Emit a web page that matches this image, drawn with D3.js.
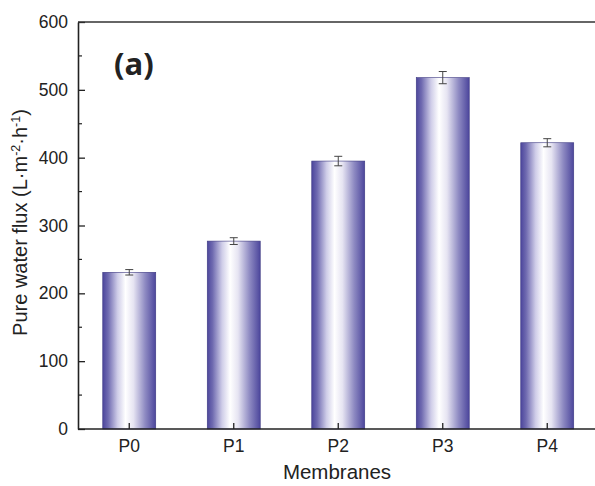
<!DOCTYPE html>
<html>
<head>
<meta charset="utf-8">
<script src="https://cdn.jsdelivr.net/npm/d3@7"></script>
<style>
  html, body { margin: 0; padding: 0; background: #fff; }
  svg { display: block; }
  text { font-family: "Liberation Sans", Arial, sans-serif; fill: #222; }
</style>
</head>
<body>
<svg id="chart" width="595" height="486"></svg>
<script>
// Pure water flux of the membranes
const categories = ["P0", "P1", "P2", "P3", "P4"];
const flux = [231, 277, 395, 518, 422];
const fluxErr = [4, 5, 7, 9, 6];
const yTicks = [0, 100, 200, 300, 400, 500, 600];
const yMinorTicks = [50, 150, 250, 350, 450, 550];

const svg = d3.select("#chart");
const plotLeft = 78, plotRight = 600, plotTop = 22, plotBottom = 429;

const x = d3.scaleBand()
  .domain(categories)
  .range([77, 599.5])
  .paddingInner(0.493)
  .paddingOuter(0.2465);

const y = d3.scaleLinear().domain([0, 600]).range([plotBottom, plotTop]);

// Horizontal gradient: dark edges, bright centre
const defs = svg.append("defs");
const grad = defs.append("linearGradient")
  .attr("id", "barGrad")
  .attr("x1", "0%").attr("x2", "100%").attr("y1", "0%").attr("y2", "0%");
[
  [0, "#4c469c"],
  [0.1, "#6f6ab0"],
  [0.28, "#cfcde8"],
  [0.43, "#ffffff"],
  [0.58, "#e6e4f2"],
  [0.8, "#8e8ac2"],
  [1, "#4c469c"]
].forEach(([o, c]) => grad.append("stop").attr("offset", o).attr("stop-color", c));

// Bars
svg.append("g").selectAll("rect")
  .data(categories)
  .join("rect")
  .attr("x", d => x(d))
  .attr("width", x.bandwidth())
  .attr("y", (d, i) => y(flux[i]))
  .attr("height", (d, i) => y(0) - y(flux[i]))
  .attr("fill", "url(#barGrad)")
  .attr("stroke", "#3c3880")
  .attr("stroke-width", 0.6);

// Error bars
const eb = svg.append("g").attr("stroke", "#444").attr("stroke-width", 1);
categories.forEach((c, i) => {
  const cx = x(c) + x.bandwidth() / 2;
  const y1 = y(flux[i] + fluxErr[i]), y2 = y(flux[i] - fluxErr[i]);
  eb.append("line").attr("x1", cx).attr("x2", cx).attr("y1", y1).attr("y2", y2);
  eb.append("line").attr("x1", cx - 4).attr("x2", cx + 4).attr("y1", y1).attr("y2", y1);
  eb.append("line").attr("x1", cx - 4).attr("x2", cx + 4).attr("y1", y2).attr("y2", y2);
});

// Y axis: major ticks inward with labels, minor ticks inward
const yAxis = svg.append("g")
  .attr("transform", `translate(${plotLeft},0)`)
  .call(d3.axisLeft(y).tickValues(yTicks).tickSize(-7).tickPadding(10).tickSizeOuter(0));
yAxis.select(".domain").attr("stroke", "#222").attr("stroke-width", 1.6);
yAxis.selectAll(".tick line").attr("stroke", "#222").attr("stroke-width", 1.3);
yAxis.selectAll(".tick text")
  .attr("font-size", 17.5)
  .attr("fill", "#333")
  .style("font-family", "'Liberation Sans', Arial, sans-serif");
svg.append("g").selectAll("line")
  .data(yMinorTicks)
  .join("line")
  .attr("x1", plotLeft).attr("x2", plotLeft + 4)
  .attr("y1", d => y(d)).attr("y2", d => y(d))
  .attr("stroke", "#222").attr("stroke-width", 1.2);

// X axis: ticks pointing up into the plot
const xAxis = svg.append("g")
  .attr("transform", `translate(0,${plotBottom})`)
  .call(d3.axisBottom(x).tickSize(-6).tickPadding(11).tickSizeOuter(0));
xAxis.select(".domain").attr("d", `M${plotLeft},0H${plotRight}`).attr("stroke", "#222").attr("stroke-width", 1.6);
xAxis.selectAll(".tick line").attr("stroke", "#222").attr("stroke-width", 1.3);
xAxis.selectAll(".tick text")
  .attr("font-size", 17.5)
  .attr("fill", "#333")
  .style("font-family", "'Liberation Sans', Arial, sans-serif");

// Top frame line
svg.append("line")
  .attr("x1", plotLeft).attr("x2", plotRight)
  .attr("y1", y(600)).attr("y2", y(600))
  .attr("stroke", "#333").attr("stroke-width", 1.6);

// Axis titles
svg.append("text")
  .attr("x", 337).attr("y", 479)
  .attr("text-anchor", "middle")
  .attr("font-size", 20.5)
  .attr("fill", "#333")
  .text("Membranes");

const yTitle = svg.append("text")
  .attr("transform", `translate(27,${(plotTop + plotBottom) / 2 - 3}) rotate(-90)`)
  .attr("text-anchor", "middle")
  .attr("font-size", 20)
  .attr("fill", "#333");
yTitle.append("tspan").text("Pure water flux (L·m");
yTitle.append("tspan").attr("dy", -7).attr("font-size", 12.5).text("-2");
yTitle.append("tspan").attr("dy", 7).text("·h");
yTitle.append("tspan").attr("dy", -7).attr("font-size", 12.5).text("-1");
yTitle.append("tspan").attr("dy", 7).text(")");

// Panel label
svg.append("text")
  .attr("x", 114).attr("y", 75)
  .attr("font-size", 31)
  .attr("font-weight", "bold")
  .style("font-family", "'Open Sans', Lato, sans-serif")
  .attr("fill", "#111")
  .text("(a)");
</script>
</body>
</html>
